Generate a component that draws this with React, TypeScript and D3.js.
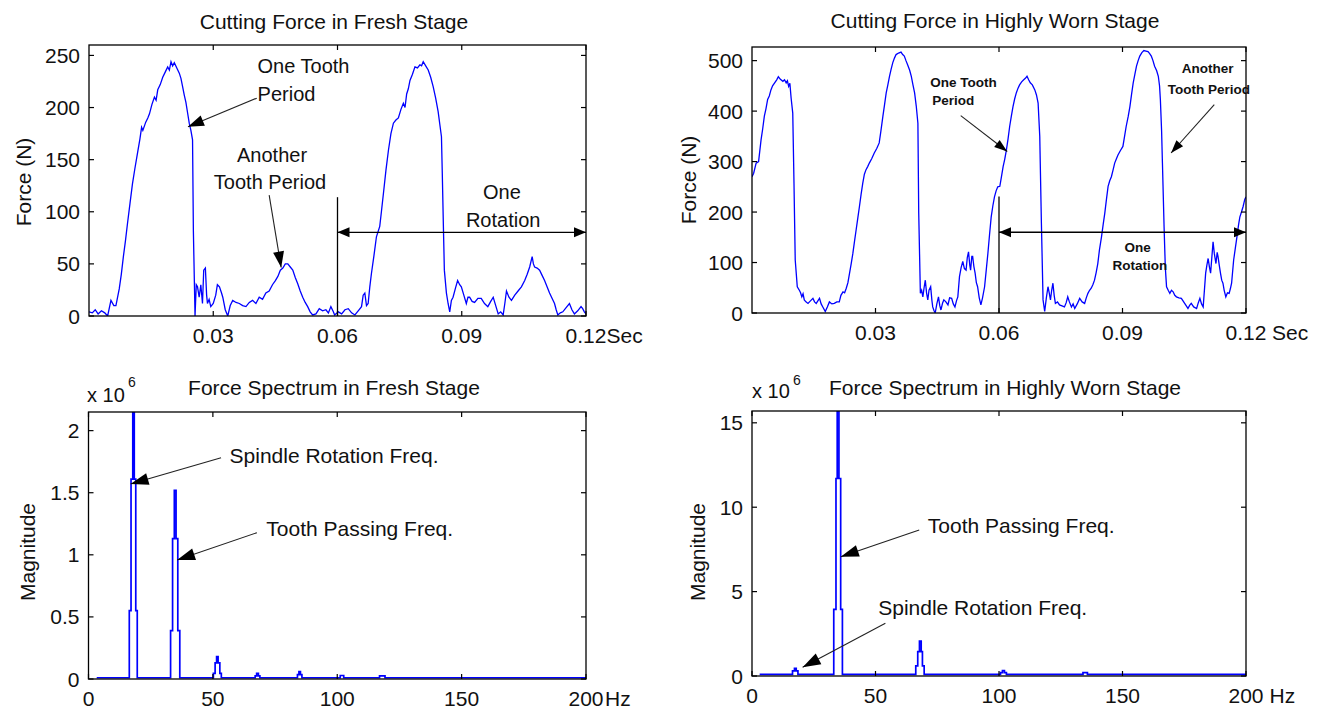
import React from 'react';
import * as d3 from 'd3';

// ---------- data ----------
// cutting force, fresh tool (time in ms, force in N)
const freshTimeMs = [
  0.0, 0.8, 1.5, 2.2, 3.0, 3.8, 4.5, 5.3, 6.0, 6.5, 7.3, 7.8, 8.3, 8.8, 9.3, 9.9, 10.5, 11.1, 11.7, 12.3, 12.7, 13.0,
  13.7, 14.2, 14.6, 15.2, 15.8, 16.2, 16.6, 17.2, 17.8, 18.4, 19.0, 19.4, 19.8, 20.2, 20.6, 21.2, 21.8, 22.2, 22.6,
  23.0, 23.4, 23.8, 24.2, 24.6, 25.0, 25.2, 25.6, 25.9, 26.2, 26.6, 27.0, 27.4, 27.7, 28.1, 28.4, 28.6, 29.0, 29.4,
  30.0, 30.6, 31.0, 31.5, 32.0, 32.3, 32.9, 33.5, 34.1, 34.7, 35.5, 36.3, 37.1, 37.9, 38.7, 39.5, 40.3, 41.1, 41.9,
  42.7, 43.5, 44.3, 45.0, 45.6, 46.2, 46.8, 47.4, 48.0, 48.6, 49.2, 49.8, 50.4, 51.0, 51.6, 52.2, 52.8, 53.4, 54.0,
  54.8, 55.6, 56.4, 57.2, 57.8, 58.4, 59.0, 59.3, 60.2, 61.0, 61.8, 62.6, 63.4, 64.2, 65.0, 65.8, 66.2, 66.6, 67.0,
  67.4, 67.8, 68.2, 68.8, 69.4, 70.2, 70.6, 71.1, 71.7, 72.3, 72.9, 73.5, 74.1, 74.7, 75.3, 75.9, 76.3, 76.7, 77.1,
  77.5, 78.1, 78.7, 79.3, 79.9, 80.3, 80.7, 81.3, 81.9, 82.5, 83.1, 83.7, 84.3, 84.7, 85.1, 85.3, 85.6, 85.8, 86.3,
  86.7, 87.1, 87.5, 87.9, 88.5, 89.0, 89.5, 89.9, 90.5, 91.1, 91.5, 91.9, 92.5, 93.1, 93.9, 94.7, 95.5, 96.3, 97.0,
  97.6, 98.2, 98.8, 99.4, 100.0, 100.4, 100.8, 101.4, 102.0, 102.8, 103.6, 104.4, 105.2, 105.8, 106.4, 107.0, 107.3,
  107.6, 108.2, 108.8, 109.4, 110.0, 110.6, 111.2, 111.8, 112.4, 112.8, 113.2, 113.8, 114.4, 115.2, 116.0, 116.6,
  117.2, 118.0, 118.8, 119.2, 119.6, 120.0,
];
const freshForce = [
  4, 3, 6, 2, 5, 3, 0, 15, 10, 10, 26, 40, 57, 72, 89, 108, 127, 142, 156, 170, 181, 178,
  186, 190, 194, 203, 210, 207, 217, 222, 229, 234, 239, 236, 244, 240, 243, 238, 233, 228, 220,
  212, 205, 195, 185, 178, 169, 82, 0, 30, 28, 18, 30, 12, 44, 46, 20, 12, 16, 9,
  12, 20, 30, 28, 22, 18, 6, 0, 10, 15, 13, 12, 10, 9, 13, 15, 12, 18, 16,
  22, 24, 30, 34, 38, 44, 46, 50, 50, 47, 44, 37, 31, 24, 18, 13, 9, 4, 1,
  2, 7, 5, 6, 3, 9, 4, 1, 4, 2, 6, 7, 3, 1, 5, 9, 20, 22, 10,
  12, 28, 41, 58, 76, 86, 100, 118, 140, 159, 175, 185, 188, 190, 198, 204, 200, 213, 218,
  226, 232, 239, 238, 241, 240, 244, 240, 236, 229, 220, 209, 196, 184, 172, 137, 80, 44, 22,
  12, 4, 15, 18, 27, 34, 30, 28, 20, 12, 18, 18, 14, 13, 17, 17, 12, 9, 14,
  18, 10, 2, 4, 1, 12, 24, 18, 15, 20, 24, 28, 34, 40, 47, 57, 50,
  47, 46, 44, 39, 34, 28, 22, 17, 12, 6, 1, 3, 4, 8, 12, 6,
  2, 5, 9, 7, 4, 2,
];

// cutting force, highly worn tool (time in ms, force in N)
const wornTimeMs = [
  0.0, 0.4, 1.0, 1.6, 2.2, 2.6, 3.0, 3.4, 3.8, 4.2, 4.6, 5.0, 5.5, 6.0, 6.4, 6.9, 7.5, 7.9, 8.3, 8.6, 8.9, 9.2, 9.5,
  9.9, 10.2, 10.5, 11.0, 11.5, 11.8, 12.1, 12.4, 12.7, 13.1, 13.6, 14.2, 14.8, 15.2, 15.6, 16.0, 16.4, 16.8, 17.2,
  17.8, 18.3, 18.8, 19.4, 20.0, 20.6, 21.2, 21.6, 22.1, 22.5, 22.9, 23.3, 23.7, 24.1, 24.5, 24.9, 25.3, 25.7, 26.1,
  26.5, 26.9, 27.3, 27.7, 28.1, 28.5, 29.1, 29.7, 30.3, 30.9, 31.3, 31.8, 32.2, 32.6, 33.0, 33.4, 33.8, 34.2, 34.6,
  35.0, 35.6, 36.2, 36.6, 37.0, 37.4, 37.8, 38.3, 38.7, 39.1, 39.5, 39.9, 40.3, 40.5, 40.9, 41.2, 41.5, 41.8, 42.1,
  42.4, 42.7, 43.0, 43.4, 43.7, 43.9, 44.2, 44.5, 44.9, 45.3, 45.6, 45.9, 46.3, 46.6, 47.1, 47.6, 48.0, 48.5, 48.9,
  49.3, 49.7, 50.0, 50.4, 50.8, 51.2, 51.6, 52.0, 52.3, 52.6, 52.9, 53.1, 53.4, 53.6, 53.9, 54.2, 54.5, 54.8, 55.2,
  55.6, 56.0, 56.5, 56.9, 57.3, 57.7, 58.1, 58.5, 58.9, 59.3, 59.7, 60.2, 60.6, 61.0, 61.4, 61.8, 62.2, 62.6, 63.0,
  63.4, 63.8, 64.2, 64.6, 65.0, 65.5, 66.0, 66.4, 66.8, 67.2, 67.6, 68.1, 68.7, 69.1, 69.5, 69.9, 70.3, 70.7, 71.1,
  71.5, 71.9, 72.2, 72.5, 72.8, 73.1, 73.4, 73.7, 74.2, 74.7, 75.3, 75.9, 76.3, 76.7, 77.1, 77.6, 78.0, 78.4, 79.0,
  79.6, 80.2, 80.8, 81.2, 81.6, 82.0, 82.4, 82.8, 83.2, 83.6, 84.0, 84.4, 84.9, 85.3, 85.7, 86.1, 86.5, 86.9, 87.3,
  87.7, 88.1, 88.5, 88.9, 89.5, 90.1, 90.5, 90.9, 91.4, 91.8, 92.2, 92.6, 93.0, 93.4, 93.8, 94.2, 94.7, 95.2, 95.7,
  96.2, 96.6, 97.0, 97.4, 97.8, 98.3, 98.7, 99.0, 99.2, 99.5, 99.7, 100.1, 100.4, 100.7, 101.1, 101.5, 101.9, 102.3,
  102.7, 103.1, 103.7, 104.3, 104.7, 105.1, 105.5, 105.9, 106.3, 106.7, 107.3, 108.0, 108.4, 108.8, 109.2, 109.6,
  110.2, 110.5, 110.8, 111.1, 111.4, 111.7, 112.0, 112.3, 112.7, 113.0, 113.2, 113.5, 113.8, 114.1, 114.4, 114.7,
  115.1, 115.5, 115.9, 116.2, 116.5, 117.0, 117.4, 117.8, 118.2, 118.5, 118.9, 119.3, 119.7, 120.0,
];
const wornForce = [
  270, 277, 297, 300, 343, 365, 390, 405, 423, 430, 442, 450, 456, 462, 468, 463, 459, 462, 456, 460, 449, 455, 426,
  396, 257, 105, 52, 45, 40, 32, 38, 26, 22, 19, 24, 29, 22, 19, 24, 29, 18, 12,
  3, 12, 22, 18, 19, 22, 22, 35, 42, 40, 49, 60, 79, 98, 118, 142, 165, 188, 211,
  235, 257, 275, 284, 290, 297, 306, 317, 326, 337, 360, 390, 413, 436, 452, 469, 483, 496, 505,
  512, 515, 517, 512, 509, 500, 492, 481, 469, 452, 436, 410, 376, 198, 39, 45, 32, 50, 65,
  40, 26, 45, 52, 25, 12, 5, 0, 18, 32, 15, 6, 20, 26, 22, 16, 30, 29, 18,
  12, 25, 32, 72, 90, 102, 88, 85, 110, 121, 95, 85, 112, 112, 92, 79, 60, 52, 30,
  16, 30, 52, 85, 118, 155, 190, 212, 230, 242, 250, 251, 270, 290, 305, 323, 345, 370, 390,
  409, 424, 436, 445, 452, 458, 462, 465, 469, 462, 456, 452, 442, 432, 416, 350, 178, 26, 3,
  30, 52, 40, 26, 45, 59, 35, 19, 22, 16, 14, 12, 20, 32, 22, 12, 18, 9, 18,
  29, 22, 19, 30, 39, 45, 49, 56, 65, 80, 98, 125, 151, 175, 198, 225, 251, 262, 270,
  283, 297, 305, 313, 322, 330, 350, 370, 390, 409, 433, 456, 473, 489, 500, 509, 516, 520, 519,
  518, 514, 509, 500, 489, 480, 469, 450, 423, 360, 297, 171, 90, 52, 45, 39, 45, 42,
  35, 32, 30, 29, 24, 19, 14, 9, 15, 19, 12, 9, 20, 29, 18, 12,
  79, 95, 108, 92, 79, 110, 141, 118, 98, 120, 112, 95, 79, 65, 59, 45,
  32, 40, 39, 48, 59, 105, 128, 151, 175, 190, 200, 211, 225, 230,
];

// force spectrum, fresh tool (frequency in Hz, magnitude in 1e6); each level holds until the next frequency
const freshSpecFreq = [
  3.3, 16.4, 17.1, 17.8, 18.4, 19.0, 19.6, 33.0, 33.8, 34.5, 35.2, 35.9, 36.7,
  50.2, 50.9, 51.5, 52.1, 52.8, 53.4, 67.0, 67.6, 68.3, 68.9, 84.0, 84.6, 85.2, 85.8,
  101.2, 102.6, 117.0, 119.2, 200.0,
];
const freshSpecMag = [
  0.01, 0.55, 1.61, 2.15, 1.61, 0.55, 0.01, 0.39, 1.13, 1.52, 1.13, 0.39, 0.01,
  0.045, 0.13, 0.18, 0.13, 0.045, 0.01, 0.025, 0.045, 0.025, 0.01, 0.035, 0.06, 0.035, 0.01,
  0.028, 0.01, 0.025, 0.01, 0.01,
];

// force spectrum, highly worn tool (frequency in Hz, magnitude in 1e6)
const wornSpecFreq = [
  3.1, 16.4, 17.2, 17.9, 18.6, 33.1, 34.0, 34.5, 35.2, 35.9, 36.6,
  66.3, 67.1, 67.8, 68.5, 69.0, 69.7, 100.6, 101.4, 102.2, 103.0, 134.0, 135.8, 200.0,
];
const wornSpecMag = [
  0.1, 0.3, 0.45, 0.3, 0.1, 3.95, 11.7, 16.2, 11.7, 3.95, 0.1,
  0.6, 1.44, 2.07, 1.44, 0.6, 0.1, 0.2, 0.32, 0.2, 0.1, 0.2, 0.1, 0.1,
];

// axis ticks
const timeTicks = [0.03, 0.06, 0.09, 0.12];
const timeTickLabels = ['0.03', '0.06', '0.09', '0.12'];
const freshForceTicks = [0, 50, 100, 150, 200, 250];
const wornForceTicks = [0, 100, 200, 300, 400, 500];
const freqTicks = [0, 50, 100, 150, 200];
const freqTickLabels = ['0', '50', '100', '150', '200'];
const freshMagTicks = [0, 0.5, 1, 1.5, 2];
const freshMagTickLabels = ['0', '0.5', '1', '1.5', '2'];
const wornMagTicks = [0, 5, 10, 15];
const wornMagTickLabels = ['0', '5', '10', '15'];

// ---------- drawing ----------
const FONT = '"Liberation Sans", Arial, Helvetica, sans-serif';
const BLUE = '#0000ff';

type Box = { left: number; right: number; top: number; bottom: number };
type Ann =
  | { kind: 'text'; x: number; y: number; text: string; anchor: 'start' | 'middle'; size: number; bold?: boolean }
  | { kind: 'arrow'; x0: number; y0: number; x1: number; y1: number; len: number; half: number }
  | { kind: 'vline'; x: number; y0: number; y1: number }
  | { kind: 'span'; y: number; x0: number; x1: number; len: number; half: number };

type PanelProps = {
  id: string;
  box: Box;
  xDomain: [number, number];
  yDomain: [number, number];
  xs: number[];
  ys: number[];
  step: boolean;
  lineWidth: number;
  xTicks: number[];
  xTickLabels: string[];
  unit: string;
  unitDx: number;
  yTicks: number[];
  yTickLabels: string[];
  title: string;
  titleX: number;
  titleY: number;
  yLabel: string;
  yLabelX: number;
  yLabelY: number;
  exponent?: { x: number; y: number; supX: number; supY: number };
  annotations: Ann[];
};

function headPoints(tx: number, ty: number, fx: number, fy: number, len: number, half: number) {
  const dx = tx - fx;
  const dy = ty - fy;
  const d = Math.hypot(dx, dy) || 1;
  const ux = dx / d;
  const uy = dy / d;
  const bx = tx - ux * len;
  const by = ty - uy * len;
  return `${tx},${ty} ${bx - uy * half},${by + ux * half} ${bx + uy * half},${by - ux * half}`;
}

function Panel(p: PanelProps) {
  const { box } = p;
  const x = d3.scaleLinear().domain(p.xDomain).range([box.left, box.right]);
  const y = d3.scaleLinear().domain(p.yDomain).range([box.bottom, box.top]);
  const idx = d3.range(p.xs.length);
  const path = d3
    .line<number>()
    .x((i) => x(p.xs[i]))
    .y((i) => y(p.ys[i]))
    .curve(p.step ? d3.curveStepAfter : d3.curveLinear)(idx);
  const tick = 5;
  const clipId = `clip-${p.id}`;

  return (
    <g>
      <defs>
        <clipPath id={clipId}>
          <rect x={box.left} y={box.top} width={box.right - box.left} height={box.bottom - box.top} />
        </clipPath>
      </defs>
      <rect x={box.left} y={box.top} width={box.right - box.left} height={box.bottom - box.top} fill="#fff" />
      <path d={path ?? ''} fill="none" stroke={BLUE} strokeWidth={p.lineWidth} clipPath={`url(#${clipId})`} strokeLinejoin="miter" />

      {/* annotations */}
      {p.annotations.map((a, k) => {
        if (a.kind === 'text') {
          return (
            <text key={k} x={x(a.x)} y={y(a.y)} textAnchor={a.anchor} fontSize={a.size} fontWeight={a.bold ? 'bold' : 'normal'} fill="#111">
              {a.text}
            </text>
          );
        }
        if (a.kind === 'arrow') {
          const X0 = x(a.x0), Y0 = y(a.y0), X1 = x(a.x1), Y1 = y(a.y1);
          return (
            <g key={k}>
              <line x1={X0} y1={Y0} x2={X1} y2={Y1} stroke="#222" strokeWidth={1.1} />
              <polygon points={headPoints(X1, Y1, X0, Y0, a.len, a.half)} fill="#000" />
            </g>
          );
        }
        if (a.kind === 'vline') {
          return <line key={k} x1={x(a.x)} x2={x(a.x)} y1={y(a.y0)} y2={y(a.y1)} stroke="#000" strokeWidth={1.3} />;
        }
        const X0 = x(a.x0), X1 = x(a.x1), Y = y(a.y);
        return (
          <g key={k}>
            <line x1={X0} x2={X1} y1={Y} y2={Y} stroke="#000" strokeWidth={1.3} />
            <polygon points={headPoints(X0, Y, X1, Y, a.len, a.half)} fill="#000" />
            <polygon points={headPoints(X1, Y, X0, Y, a.len, a.half)} fill="#000" />
          </g>
        );
      })}

      {/* box and ticks */}
      <rect x={box.left} y={box.top} width={box.right - box.left} height={box.bottom - box.top} fill="none" stroke="#000" strokeWidth={1.3} />
      {p.xTicks.map((t, k) => (
        <g key={`xt${k}`}>
          <line x1={x(t)} x2={x(t)} y1={box.bottom} y2={box.bottom - tick} stroke="#000" strokeWidth={1.2} />
          <line x1={x(t)} x2={x(t)} y1={box.top} y2={box.top + tick} stroke="#000" strokeWidth={1.2} />
        </g>
      ))}
      {p.yTicks.map((t, k) => (
        <g key={`yt${k}`}>
          <line x1={box.left} x2={box.left + tick} y1={y(t)} y2={y(t)} stroke="#000" strokeWidth={1.2} />
          <line x1={box.right} x2={box.right - tick} y1={y(t)} y2={y(t)} stroke="#000" strokeWidth={1.2} />
        </g>
      ))}

      {/* tick labels */}
      {p.xTicks.map((t, k) => (
        <text key={`xl${k}`} x={x(t)} y={box.bottom + 27} textAnchor="middle" fontSize={21} fill="#111">
          {p.xTickLabels[k]}
        </text>
      ))}
      <text x={x(p.xTicks[p.xTicks.length - 1]) + p.unitDx} y={box.bottom + 27} textAnchor="start" fontSize={21} fill="#111">
        {p.unit}
      </text>
      {p.yTicks.map((t, k) => (
        <text key={`yl${k}`} x={box.left - 9} y={y(t) + 7.5} textAnchor="end" fontSize={21} fill="#111">
          {p.yTickLabels[k]}
        </text>
      ))}

      {/* titles */}
      <text x={p.titleX} y={p.titleY} textAnchor="middle" fontSize={21} fill="#111">
        {p.title}
      </text>
      <text transform={`translate(${p.yLabelX},${p.yLabelY}) rotate(-90)`} textAnchor="middle" fontSize={21} fill="#111">
        {p.yLabel}
      </text>
      {p.exponent && (
        <g>
          <text x={p.exponent.x} y={p.exponent.y} fontSize={20} fill="#111">x 10</text>
          <text x={p.exponent.supX} y={p.exponent.supY} fontSize={14} fill="#111">6</text>
        </g>
      )}
    </g>
  );
}

const panels: PanelProps[] = [
  {
    id: 'fresh-force',
    box: { left: 89, right: 586, top: 45, bottom: 316 },
    xDomain: [0, 0.12],
    yDomain: [0, 260],
    xs: freshTimeMs.map((t) => t / 1000),
    ys: freshForce,
    step: false,
    lineWidth: 1.3,
    xTicks: timeTicks,
    xTickLabels: timeTickLabels,
    unit: 'Sec',
    unitDx: 20.5,
    yTicks: freshForceTicks,
    yTickLabels: freshForceTicks.map(String),
    title: 'Cutting Force in Fresh Stage',
    titleX: 334,
    titleY: 29,
    yLabel: 'Force (N)',
    yLabelX: 31,
    yLabelY: 182,
    annotations: [
      { kind: 'text', x: 0.0407, y: 233, text: 'One Tooth', anchor: 'start', size: 20 },
      { kind: 'text', x: 0.0407, y: 206, text: 'Period', anchor: 'start', size: 20 },
      { kind: 'arrow', x0: 0.0405, y0: 209, x1: 0.0239, y1: 181.6, len: 16, half: 5.5 },
      { kind: 'text', x: 0.0442, y: 148, text: 'Another', anchor: 'middle', size: 20 },
      { kind: 'text', x: 0.0437, y: 122, text: 'Tooth Period', anchor: 'middle', size: 20 },
      { kind: 'arrow', x0: 0.0435, y0: 116, x1: 0.0464, y1: 46.5, len: 16, half: 5.5 },
      { kind: 'vline', x: 0.06, y0: 0, y1: 114 },
      { kind: 'span', y: 80.3, x0: 0.06, x1: 0.12, len: 12, half: 5 },
      { kind: 'text', x: 0.0997, y: 112, text: 'One', anchor: 'middle', size: 20 },
      { kind: 'text', x: 0.1, y: 85.4, text: 'Rotation', anchor: 'middle', size: 20 },
    ],
  },
  {
    id: 'worn-force',
    box: { left: 752, right: 1246, top: 47, bottom: 313 },
    xDomain: [0, 0.12],
    yDomain: [0, 527],
    xs: wornTimeMs.map((t) => t / 1000),
    ys: wornForce,
    step: false,
    lineWidth: 1.3,
    xTicks: timeTicks,
    xTickLabels: timeTickLabels,
    unit: 'Sec',
    unitDx: 26,
    yTicks: wornForceTicks,
    yTickLabels: wornForceTicks.map(String),
    title: 'Cutting Force in Highly Worn Stage',
    titleX: 995,
    titleY: 28,
    yLabel: 'Force (N)',
    yLabelX: 696,
    yLabelY: 180,
    annotations: [
      { kind: 'text', x: 0.0433, y: 448, text: 'One Tooth', anchor: 'start', size: 13.5, bold: true },
      { kind: 'text', x: 0.0438, y: 412.7, text: 'Period', anchor: 'start', size: 13.5, bold: true },
      { kind: 'arrow', x0: 0.0507, y0: 391, x1: 0.062, y1: 320, len: 13, half: 4.5 },
      { kind: 'text', x: 0.1107, y: 475, text: 'Another', anchor: 'middle', size: 13.5, bold: true },
      { kind: 'text', x: 0.111, y: 433.5, text: 'Tooth Period', anchor: 'middle', size: 13.5, bold: true },
      { kind: 'arrow', x0: 0.1123, y0: 412.7, x1: 0.1018, y1: 317, len: 13, half: 4.5 },
      { kind: 'vline', x: 0.06, y0: 0, y1: 231 },
      { kind: 'span', y: 160, x0: 0.06, x1: 0.12, len: 12, half: 5 },
      { kind: 'text', x: 0.0937, y: 121, text: 'One', anchor: 'middle', size: 13.5, bold: true },
      { kind: 'text', x: 0.0942, y: 85.3, text: 'Rotation', anchor: 'middle', size: 13.5, bold: true },
    ],
  },
  {
    id: 'fresh-spectrum',
    box: { left: 88.5, right: 586, top: 412, bottom: 679 },
    xDomain: [0, 200],
    yDomain: [0, 2.15],
    xs: freshSpecFreq,
    ys: freshSpecMag,
    step: true,
    lineWidth: 1.7,
    xTicks: freqTicks,
    xTickLabels: freqTickLabels,
    unit: 'Hz',
    unitDx: 19,
    yTicks: freshMagTicks,
    yTickLabels: freshMagTickLabels,
    title: 'Force Spectrum in Fresh Stage',
    titleX: 334,
    titleY: 395,
    yLabel: 'Magnitude',
    yLabelX: 35,
    yLabelY: 552,
    exponent: { x: 87, y: 402, supX: 128, supY: 387 },
    annotations: [
      { kind: 'text', x: 56.7, y: 1.743, text: 'Spindle Rotation Freq.', anchor: 'start', size: 21 },
      { kind: 'arrow', x0: 53.3, y0: 1.782, x1: 16.9, y1: 1.57, len: 18, half: 6 },
      { kind: 'text', x: 71.5, y: 1.151, text: 'Tooth Passing Freq.', anchor: 'start', size: 21 },
      { kind: 'arrow', x0: 67.7, y0: 1.178, x1: 35.6, y1: 0.958, len: 18, half: 6 },
    ],
  },
  {
    id: 'worn-spectrum',
    box: { left: 752, right: 1246, top: 411, bottom: 676 },
    xDomain: [0, 200],
    yDomain: [0, 15.7],
    xs: wornSpecFreq,
    ys: wornSpecMag,
    step: true,
    lineWidth: 1.7,
    xTicks: freqTicks,
    xTickLabels: freqTickLabels,
    unit: 'Hz',
    unitDx: 23.5,
    yTicks: wornMagTicks,
    yTickLabels: wornMagTickLabels,
    title: 'Force Spectrum in Highly Worn Stage',
    titleX: 1005,
    titleY: 395,
    yLabel: 'Magnitude',
    yLabelX: 705,
    yLabelY: 552,
    exponent: { x: 752, y: 398, supX: 793, supY: 385 },
    annotations: [
      { kind: 'text', x: 71.2, y: 8.47, text: 'Tooth Passing Freq.', anchor: 'start', size: 21 },
      { kind: 'arrow', x0: 67.7, y0: 8.65, x1: 35.95, y1: 7.07, len: 18, half: 6 },
      { kind: 'text', x: 51.1, y: 3.61, text: 'Spindle Rotation Freq.', anchor: 'start', size: 21 },
      { kind: 'arrow', x0: 54.0, y0: 3.12, x1: 20.5, y1: 0.515, len: 18, half: 6 },
    ],
  },
];

export default function App() {
  return (
    <svg
      width={1322}
      height={713}
      viewBox="0 0 1322 713"
      style={{ position: 'absolute', left: 0, top: 0, background: '#fff' }}
      fontFamily={FONT}
    >
      <rect x={0} y={0} width={1322} height={713} fill="#fff" />
      {panels.map((p) => (
        <Panel key={p.id} {...p} />
      ))}
    </svg>
  );
}
